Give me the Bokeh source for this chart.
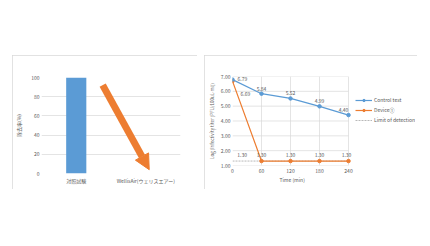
from bokeh.plotting import figure
from bokeh.layouts import row, column
from bokeh.models import (Arrow, NormalHead, Legend, LegendItem, FixedTicker, Title,
                          ColumnDataSource, FactorRange, NumeralTickFormatter)
from bokeh.core.properties import value
from bokeh.embed import file_html
from bokeh.resources import INLINE

# ---------------- data ----------------
categories = ["対照試験", "WellisAir(ウェリスエアー)"]
removal_rate = [100, 0]
rate_ticks = [0, 20, 40, 60, 80, 100]
arrow_from = (0.88, 92)   # (category coordinate, %)
arrow_to = (1.55, 4)

times = [0, 60, 120, 180, 240]
control_test = [6.79, 5.84, 5.52, 4.99, 4.40]
device_1 = [6.69, 1.30, 1.30, 1.30, 1.30]
limit_of_detection = [1.30, 1.30, 1.30, 1.30, 1.30]
lod_label_time = 20
log_ticks = [1, 2, 3, 4, 5, 6, 7]

FONT = "Noto Sans CJK JP"
TXT = "#595959"
GRID = "#d9d9d9"
BLUE = "#5B9BD5"
ORANGE = "#ED7D31"
FS = "5px"

panel_style = {"outline": "1px solid #d9d9d9", "outline-offset": "-1px"}

def style_axes(p):
    for ax in (p.xaxis[0], p.yaxis[0]):
        ax.axis_line_color = None
        ax.major_tick_line_color = None
        ax.minor_tick_line_color = None
        ax.major_tick_out = 0
        ax.major_tick_in = 0
        ax.minor_tick_out = 0
        ax.minor_tick_in = 0
        ax.major_label_text_font = FONT
        ax.major_label_text_font_size = FS
        ax.major_label_text_color = TXT
        ax.axis_label_text_font = FONT
        ax.axis_label_text_font_size = FS
        ax.axis_label_text_color = TXT
        ax.axis_label_text_font_style = "normal"
        ax.major_label_standoff = 2
        ax.axis_label_standoff = 3

# ---------------- left chart ----------------
p1 = figure(width=185, height=134, x_range=FactorRange(*categories), y_range=(0, 100),
            output_backend="svg", toolbar_location=None,
            min_border_left=28, min_border_right=17, min_border_top=22, min_border_bottom=16)
p1.styles = panel_style
p1.outline_line_color = None
p1.background_fill_color = "white"
p1.border_fill_color = "white"
src1 = ColumnDataSource(dict(cat=categories, rate=removal_rate))
p1.vbar(x="cat", top="rate", width=0.29, source=src1, fill_color=BLUE, line_color=None)
p1.yaxis.ticker = FixedTicker(ticks=rate_ticks)
p1.yaxis.axis_label = "除去率(%)"
p1.xgrid.grid_line_color = None
p1.ygrid.grid_line_color = GRID
p1.ygrid.grid_line_width = 0.7
style_axes(p1)
p1.yaxis.axis_label_standoff = 6
p1.xaxis.major_label_standoff = 3
p1.add_layout(Arrow(x_start=arrow_from[0], y_start=arrow_from[1],
                    x_end=arrow_to[0], y_end=arrow_to[1],
                    line_color=ORANGE, line_width=7,
                    end=NormalHead(size=15, fill_color=ORANGE, line_color=ORANGE)))

# ---------------- right chart ----------------
# the frame also holds the legend area to the right of the last time point
PLOT_W, LEGEND_W = 116, 67
x_end = times[-1] * (PLOT_W + LEGEND_W) / PLOT_W
p2 = figure(width=213, height=134, x_range=(times[0], x_end), y_range=(log_ticks[0], log_ticks[-1]),
            output_backend="svg", toolbar_location=None,
            min_border_left=28, min_border_right=2, min_border_top=21, min_border_bottom=24)
p2.styles = panel_style
p2.outline_line_color = None
p2.background_fill_color = "white"
p2.border_fill_color = "white"
p2.xaxis.ticker = FixedTicker(ticks=times)
p2.yaxis.ticker = FixedTicker(ticks=log_ticks)
p2.yaxis.formatter = NumeralTickFormatter(format="0.00")
p2.yaxis.axis_label = "Log (Infectivity titer [PFU/100uL-ml])"
p2.xgrid.grid_line_color = GRID
p2.xgrid.grid_line_width = 0.7
p2.ygrid.grid_line_color = None
style_axes(p2)
p2.yaxis.axis_label_text_font_size = "4.5px"
p2.xaxis.major_label_standoff = 3
# x-axis title centred under the time span (not under the legend area)
p2.add_layout(Title(text="Time (min)", align="left", offset=PLOT_W / 2 - 11,
                    text_font=FONT, text_font_size=FS, text_font_style="normal",
                    text_color=TXT, standoff=-4), "below")

# horizontal grid lines limited to the time span
p2.segment(x0=[times[0]] * len(log_ticks), x1=[times[-1]] * len(log_ticks),
           y0=log_ticks, y1=log_ticks, line_color=GRID, line_width=0.7)

src2 = ColumnDataSource(dict(t=times, ctrl=control_test, dev=device_1, lod=limit_of_detection))
r_lod = p2.line("t", "lod", source=src2, line_color="#a6a6a6", line_width=0.8, line_dash="2 1")
r_dev = p2.line("t", "dev", source=src2, line_color=ORANGE, line_width=1.2)
r_dev_m = p2.scatter("t", "dev", source=src2, size=3.5, fill_color=ORANGE, line_color=ORANGE)
r_ctrl = p2.line("t", "ctrl", source=src2, line_color=BLUE, line_width=1.2)
r_ctrl_m = p2.scatter("t", "ctrl", source=src2, size=3.5, fill_color=BLUE, line_color=BLUE)

lbl_kw = dict(text_font=value(FONT), text_font_size=FS, text_color=TXT)

def labels(ts, vs, **kw):
    s = ColumnDataSource(dict(t=ts, v=vs, s=["%.2f" % v for v in vs]))
    p2.text("t", "v", text="s", source=s, **lbl_kw, **kw)

# control test labels
labels(times[:1], control_test[:1], text_align="left", text_baseline="middle", x_offset=5, y_offset=-1)
labels(times[1:4], control_test[1:4], text_align="center", text_baseline="bottom", y_offset=-3)
labels(times[4:], control_test[4:], text_align="center", text_baseline="bottom", x_offset=-5, y_offset=-3)
# device labels
labels(times[:1], device_1[:1], text_align="left", text_baseline="top", x_offset=8, y_offset=11)
labels(times[1:4], device_1[1:4], text_align="center", text_baseline="bottom", y_offset=-4)
labels(times[4:], device_1[4:], text_align="center", text_baseline="bottom", x_offset=-2, y_offset=-4)
# limit of detection label
labels([lod_label_time], limit_of_detection[:1], text_align="center", text_baseline="bottom", y_offset=-4)

legend = Legend(items=[
    LegendItem(label="Control test", renderers=[r_ctrl, r_ctrl_m]),
    LegendItem(label="Device①", renderers=[r_dev, r_dev_m]),
    LegendItem(label="Limit of detection", renderers=[r_lod]),
], location=(123, 42))
legend.label_text_font = FONT
legend.label_text_font_size = FS
legend.label_text_color = TXT
legend.glyph_width = 17
legend.glyph_height = 6
legend.label_height = 6
legend.label_standoff = 2
legend.spacing = 3
legend.padding = 0
legend.margin = 0
legend.border_line_color = None
legend.background_fill_alpha = 0
p2.add_layout(legend, "center")

c1 = column(p1)
c1.margin = (55, 0, 0, 12)
c2 = column(p2)
c2.margin = (55, 0, 0, 7)
layout = row(c1, c2)
open("out.html", "w").write(file_html(layout, INLINE))
